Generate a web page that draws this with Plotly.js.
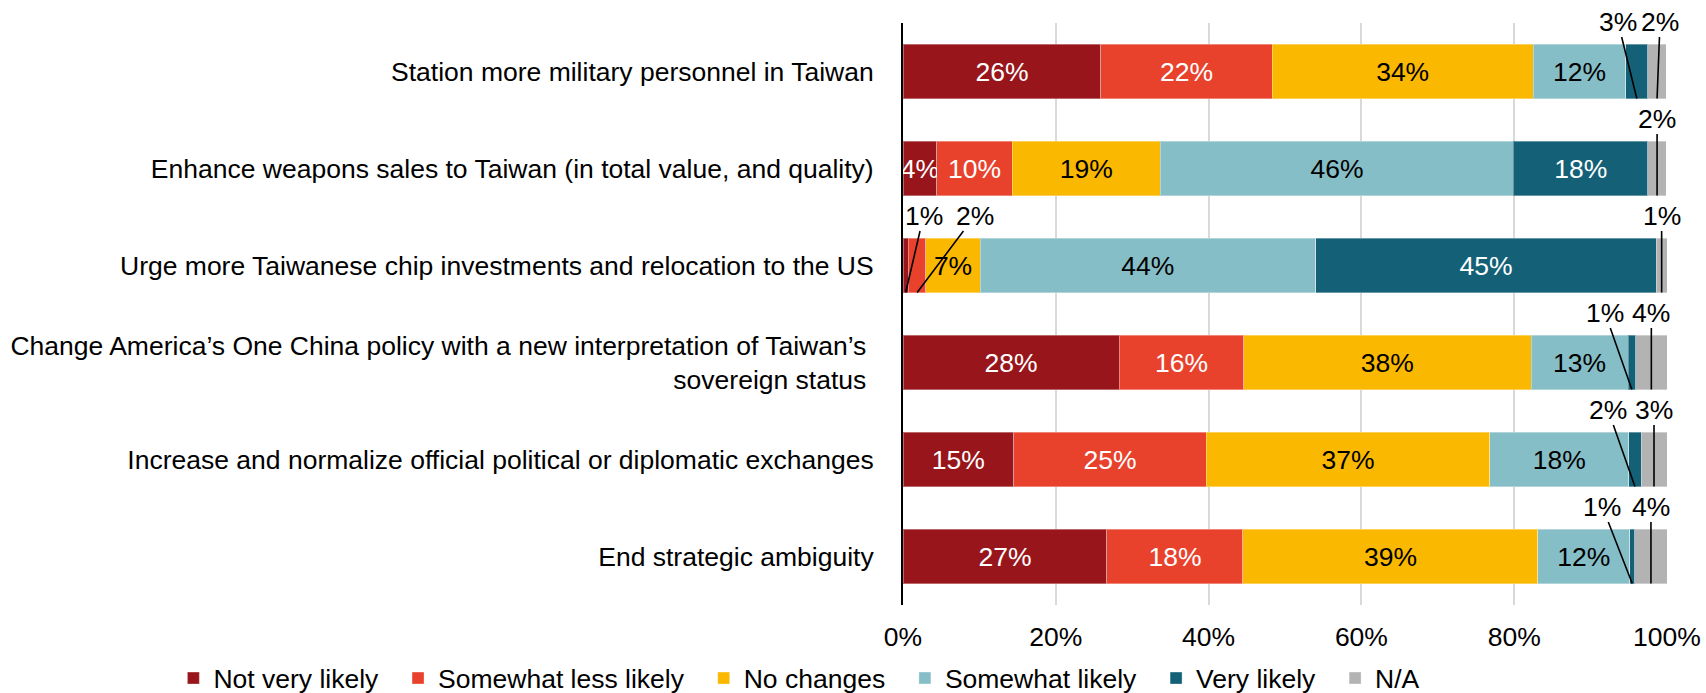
<!DOCTYPE html>
<html>
<head>
<meta charset="utf-8">
<script src="https://cdn.plot.ly/plotly-3.0.1.min.js"></script>
<style>html,body{margin:0;padding:0;background:#fff;}#chart{width:1706px;height:693px;}</style>
</head>
<body>
<div id="chart"></div>
<script>
const categories = [
  "Station more military personnel in Taiwan",
  "Enhance weapons sales to Taiwan (in total value, and quality)",
  "Urge more Taiwanese chip investments and relocation to the US",
  "Change America\u2019s One China policy with a new interpretation of Taiwan\u2019s\u00a0<br>sovereign status\u00a0",
  "Increase and normalize official political or diplomatic exchanges",
  "End strategic ambiguity"
];
const seriesNames = ["Not very likely", "Somewhat less likely", "No changes", "Somewhat likely", "Very likely", "N/A"];
const notVeryLikely      = [25.9,  4.4,  0.7, 28.3, 14.5, 26.7];
const somewhatLessLikely = [22.4,  9.9,  2.3, 16.3, 25.2, 17.8];
const noChanges          = [34.2, 19.4,  7.1, 37.6, 37.1, 38.6];
const somewhatLikely     = [12.1, 46.2, 43.9, 12.7, 18.2, 12.0];
const veryLikely         = [ 2.9, 17.6, 44.6,  1.0,  1.6,  0.7];
const notApplicable      = [ 2.4,  2.4,  1.4,  4.1,  3.4,  4.2];
const xTickValues = [0, 20, 40, 60, 80, 100];

// external (callout) labels: [row, series index, horizontal text offset px]
const callouts = [
  [0, 4, -19], [0, 5, 3],
  [1, 5, 0],
  [2, 0, 18], [2, 1, 58], [2, 5, 0],
  [3, 4, -27], [3, 5, 0],
  [4, 4, -27], [4, 5, 0],
  [5, 4, -30], [5, 5, 0]
];

const allSeries = [notVeryLikely, somewhatLessLikely, noChanges, somewhatLikely, veryLikely, notApplicable];
const colors = ["#98161B", "#E8422D", "#FBB800", "#86BEC7", "#136077", "#B3B3B3"];
const textColors = ["#ffffff", "#ffffff", "#000000", "#000000", "#ffffff", "#000000"];
const FONT = "Liberation Sans, Arial, sans-serif";
const FS = 26.5;
const BARGAP = 0.443;

const traces = allSeries.map((vals, s) => ({
  type: "bar",
  orientation: "h",
  name: seriesNames[s] + "\u00a0\u00a0",
  y: categories,
  x: vals,
  marker: { color: colors[s], line: { color: "rgba(255,255,255,0.35)", width: 1 } },
  text: vals.map(v => (s < 5 && v >= 4) ? Math.round(v) + "%" : ""),
  textposition: "inside",
  insidetextanchor: "middle",
  constraintext: "none",
  textangle: 0,
  insidetextfont: { family: FONT, size: FS, color: textColors[s] },
  hoverinfo: "name+x"
}));

const halfBar = (1 - BARGAP) / 2;
const annotations = callouts.map(([r, s, ax]) => {
  let before = 0;
  for (let k = 0; k < s; k++) before += allSeries[k][r];
  const v = allSeries[s][r];
  return {
    xref: "x", yref: "y",
    x: before + v / 2,
    y: r + halfBar,
    text: Math.round(v) + "%",
    showarrow: true,
    arrowhead: 0,
    arrowwidth: 1.6,
    arrowcolor: "#000000",
    standoff: 0,
    startstandoff: 0,
    ax: ax,
    ay: -77,
    borderpad: 0,
    font: { family: FONT, size: FS, color: "#000000" }
  };
});

const layout = {
  width: 1706,
  height: 693,
  barmode: "stack",
  bargap: BARGAP,
  paper_bgcolor: "#ffffff",
  plot_bgcolor: "#ffffff",
  margin: { l: 903, r: 39, t: 23, b: 88, pad: 0, autoexpand: false },
  font: { family: FONT, size: FS, color: "#000000" },
  showlegend: true,
  legend: {
    orientation: "h",
    xref: "paper", yref: "paper",
    x: -0.955, xanchor: "left",
    y: -0.126, yanchor: "middle",
    font: { family: FONT, size: FS, color: "#000000" },
    itemwidth: 30,
    traceorder: "normal",
    bgcolor: "rgba(0,0,0,0)"
  },
  xaxis: {
    range: [0, 100],
    tickvals: xTickValues,
    ticktext: xTickValues.map(v => v + "%"),
    showgrid: true,
    gridcolor: "#D9D9D9",
    gridwidth: 2,
    zeroline: false,
    showline: false,
    ticks: "",
    ticklabelstandoff: 13,
    tickfont: { family: FONT, size: FS, color: "#000000" },
    automargin: false,
    fixedrange: true
  },
  yaxis: {
    type: "category",
    categoryorder: "array",
    categoryarray: categories,
    autorange: false,
    range: [categories.length - 0.5, -0.5],
    showgrid: false,
    zeroline: false,
    showline: true,
    linecolor: "#000000",
    linewidth: 2,
    ticks: "",
    ticklabelstandoff: 22,
    tickfont: { family: FONT, size: FS, color: "#000000" },
    automargin: false,
    fixedrange: true
  },
  annotations: annotations
};

Plotly.newPlot("chart", traces, layout, { displayModeBar: false, staticPlot: true });
</script>
</body>
</html>
